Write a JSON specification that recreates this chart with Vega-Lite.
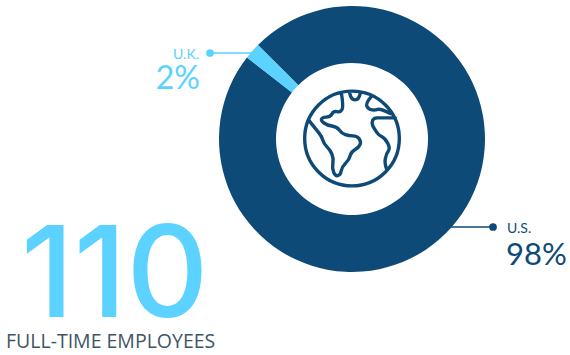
{
  "$schema": "https://vega.github.io/schema/vega-lite/v6.json",
  "width": 570,
  "height": 355,
  "padding": 0,
  "autosize": "none",
  "background": "white",
  "view": {"stroke": null},
  "datasets": {
    "shares": [
      {"country": "U.S.", "share": 0.98},
      {"country": "U.K.", "share": 0.02}
    ],
    "headcount": [
      {"count": 110, "caption": "FULL-TIME EMPLOYEES"}
    ]
  },
  "data": {"name": "shares"},
  "layer": [
    {
      "mark": {"type": "arc", "x": 352, "y": 139, "innerRadius": 76, "outerRadius": 133},
      "encoding": {
        "theta": {"field": "share", "type": "quantitative", "stack": true, "scale": {"domain": [0, 1], "range": [-0.785, 5.498]}},
        "order": {"field": "share", "type": "quantitative", "sort": "descending"},
        "color": {"field": "country", "type": "nominal", "legend": null, "scale": {"domain": ["U.S.", "U.K."], "range": ["#0E4A77", "#5BD2FF"]}}
      }
    },
    {
      "data": {"values": [{"icon": "globe"}]},
      "mark": {
        "type": "point",
        "x": 352,
        "y": 138.5,
        "filled": false,
        "stroke": "#0E4A77",
        "strokeWidth": 3.4,
        "strokeJoin": "round",
        "strokeCap": "round",
        "opacity": 1,
        "size": 0.4444,
        "shape": "M-142 0A142 142 0 1 1 142 0A142 142 0 1 1 -142 0ZM-32 -137Q-25 -95 -30 -86.5Q-35 -78 -45 -80.5Q-55 -83 -60 -74Q-65 -65 -77.5 -64Q-90 -63 -91.5 -58Q-93 -53 -84 -46.5Q-75 -40 -60 -37.5Q-45 -35 -37.5 -25Q-30 -15 -20 -11.5Q-10 -8 2.5 -8Q15 -8 21.5 1Q28 10 24 18.5Q20 27 8.5 33.5Q-3 40 -5.5 51.5Q-8 63 -19 74Q-30 85 -32.5 97.5Q-35 110 -42.5 111.5Q-50 113 -55 101.5Q-60 90 -57.5 75Q-55 60 -60 47.5Q-65 35 -75 25Q-85 15 -87.5 5Q-90 -5 -100 -17.5Q-110 -30 -130 -55M-7 -137Q-3 -116 9 -116Q21 -116 25 -137M57 -125Q40 -105 45 -96Q50 -87 60 -86Q70 -85 77.5 -87.5Q85 -90 115 -75M130 -62L75 -62Q55 -60 62.5 -37.5Q70 -25 75 -17.5Q80 -10 90 -5Q100 0 107.5 15Q115 30 109 37.5Q103 45 100 60Q97 75 105 95"
      },
      "encoding": {}
    },
    {
      "transform": [{"filter": "datum.country === 'U.K.'"}],
      "layer": [
        {"mark": {"type": "rule", "stroke": "#5BD2FF", "strokeWidth": 1.5}, "encoding": {"x": {"value": 210}, "x2": {"value": 258}, "y": {"value": 53}}},
        {"mark": {"type": "point", "x": 210, "y": 53, "filled": true, "fill": "#5BD2FF", "opacity": 1, "size": 60, "shape": "circle"}, "encoding": {}},
        {
          "mark": {"type": "text", "x": 199, "y": 59, "align": "right", "baseline": "alphabetic", "font": "Lato", "fontSize": 14, "color": "#5BD2FF"},
          "encoding": {"text": {"field": "country"}}
        },
        {
          "mark": {"type": "text", "x": 200, "y": 89, "align": "right", "baseline": "alphabetic", "font": "Lato", "fontSize": 32, "color": "#5BD2FF"},
          "encoding": {"text": {"field": "share", "format": ".0%"}}
        }
      ]
    },
    {
      "transform": [{"filter": "datum.country === 'U.S.'"}],
      "layer": [
        {"mark": {"type": "rule", "stroke": "#0E4A77", "strokeWidth": 1.5}, "encoding": {"x": {"value": 450}, "x2": {"value": 493}, "y": {"value": 227}}},
        {"mark": {"type": "point", "x": 493, "y": 227, "filled": true, "fill": "#0E4A77", "opacity": 1, "size": 60, "shape": "circle"}, "encoding": {}},
        {
          "mark": {"type": "text", "x": 507, "y": 233, "align": "left", "baseline": "alphabetic", "font": "Lato", "fontSize": 14, "color": "#0E4A77"},
          "encoding": {"text": {"field": "country"}}
        },
        {
          "mark": {"type": "text", "x": 506, "y": 265, "align": "left", "baseline": "alphabetic", "font": "Lato", "fontSize": 31, "color": "#0E4A77"},
          "encoding": {"text": {"field": "share", "format": ".0%"}}
        }
      ]
    },
    {
      "data": {"name": "headcount"},
      "layer": [
        {
          "mark": {"type": "text", "x": 21, "y": 317, "align": "left", "baseline": "alphabetic", "font": "Inter", "fontWeight": 500, "fontSize": 127, "color": "#5BD2FF"},
          "encoding": {"text": {"field": "count", "type": "quantitative"}}
        },
        {
          "mark": {"type": "text", "x": 6, "y": 348, "align": "left", "baseline": "alphabetic", "font": "Open Sans", "fontSize": 19.5, "color": "#3F5566"},
          "encoding": {"text": {"field": "caption"}}
        }
      ]
    }
  ]
}
